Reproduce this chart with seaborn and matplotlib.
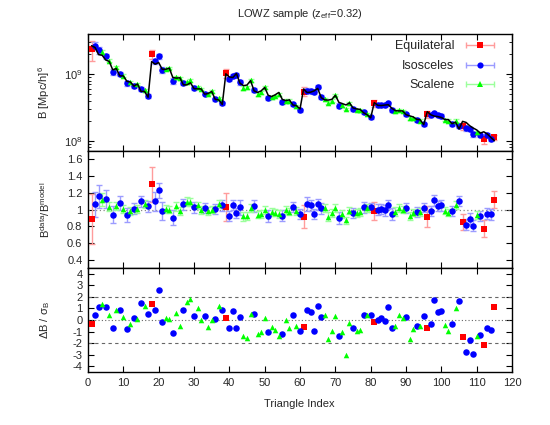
import numpy as np
import pandas as pd
import seaborn as sns
import matplotlib
matplotlib.use('Agg')
import matplotlib.pyplot as plt
from matplotlib.lines import Line2D
from matplotlib.legend_handler import HandlerLine2D, HandlerTuple
from matplotlib.ticker import FuncFormatter, NullFormatter, LogLocator

# triangle shape for index 1..115 (E = equilateral, I = isosceles, S = scalene)
kind = ("EIISISISIS" "ISISISIEII" "ISSISSISSI" "SSISSISIEI" "IIISSSISSS"
        "ISSSISSISI" "EIIIIISSSS" "ISSSISSISI" "EIIIIISSSI" "SSISIEIIII"
        "SSISIEIIIS" "IEIIE")

# measured bispectrum, units of 1e8 (Mpc/h)^6
b_data = [23.8, 26.7, 22.7, 21.4, 18.4, 16.0, 10.9, 12.6, 10.1, 9.5,
          7.3, 7.5, 6.7, 7.1, 6.0, 5.8, 4.7, 20.0, 15.5, 18.4,
          11.6, 11.9, 12.3, 8.0, 9.0, 8.6, 7.3, 7.5, 8.1, 6.2,
          6.3, 6.0, 5.1, 5.0, 5.5, 4.2, 4.4, 3.66, 10.4, 8.4,
          9.4, 9.8, 7.5, 6.2, 6.3, 8.1, 5.8, 5.0, 5.3, 6.3,
          4.4, 4.5, 4.7, 5.0, 3.86, 4.0, 4.0, 3.53, 3.3, 2.85,
          5.47, 5.66, 5.6, 5.3, 6.5, 4.5, 4.2, 3.73, 4.0, 4.87,
          3.37, 3.4, 3.0, 3.66, 2.97, 2.9, 2.85, 2.68, 2.5, 2.25,
          3.66, 3.4, 3.4, 3.4, 3.66, 2.9, 2.75, 2.85, 2.8, 2.5,
          2.17, 2.2, 2.03, 2.0, 1.77, 2.5, 2.4, 2.59, 2.4, 2.35,
          2.05, 2.0, 1.77, 2.0, 1.66, 1.66, 1.54, 1.5, 1.25, 1.35,
          1.2, 1.05, 1.2, 1.06, 1.12]

# best-fit model, units of 1e8 (Mpc/h)^6
b_model = [26.7, 25.1, 19.6, 19.2, 16.3, 15.5, 11.6, 12.1, 9.4, 9.4,
           7.8, 7.6, 6.6, 7.1, 5.5, 5.5, 4.5, 15.4, 14.1, 14.9,
           11.8, 11.8, 12.3, 8.9, 8.7, 8.8, 6.9, 6.9, 7.4, 6.05,
           6.0, 6.0, 5.0, 5.1, 5.5, 4.17, 4.1, 3.5, 10.1, 9.05,
           8.9, 10.2, 7.3, 6.7, 6.85, 8.0, 5.6, 5.3, 5.6, 6.3,
           4.8, 4.6, 4.9, 5.3, 4.16, 4.0, 4.1, 3.43, 3.35, 3.0,
           5.97, 5.3, 5.35, 5.6, 6.1, 4.43, 4.1, 4.07, 4.17, 4.8,
           3.76, 3.6, 3.44, 3.7, 3.1, 3.0, 2.95, 2.62, 2.45, 2.2,
           3.73, 3.4, 3.37, 3.43, 3.47, 3.06, 2.82, 2.8, 2.8, 2.46,
           2.36, 2.28, 2.1, 2.06, 1.74, 2.73, 2.45, 2.34, 2.3, 2.23,
           2.08, 2.07, 1.8, 1.9, 1.5, 1.95, 1.88, 1.68, 1.55, 1.45,
           1.3, 1.36, 1.26, 1.12, 1.0]

ratio = [0.89, 1.064, 1.156, 1.116, 1.128, 1.032, 0.936, 1.044, 1.076, 1.008,
         0.936, 0.984, 1.008, 1.004, 1.096, 1.064, 1.036, 1.30, 1.096, 1.232,
         0.98, 1.008, 1.0, 0.9, 1.036, 0.98, 1.064, 1.092, 1.088, 1.024,
         1.048, 0.996, 1.016, 0.98, 1.0, 1.008, 1.068, 1.048, 1.028, 0.928,
         1.056, 0.96, 1.024, 0.92, 0.92, 1.016, 1.04, 0.94, 0.948, 0.996,
         0.924, 0.972, 0.964, 0.948, 0.928, 0.996, 0.976, 1.028, 0.984, 0.948,
         0.916, 1.068, 1.048, 0.944, 1.06, 1.016, 1.02, 0.916, 0.96, 1.016,
         0.896, 0.948, 0.872, 0.988, 0.956, 0.96, 0.968, 1.024, 1.02, 1.024,
         0.98, 1.0, 1.008, 0.992, 1.056, 0.948, 0.976, 1.016, 1.0, 1.016,
         0.92, 0.964, 0.968, 0.972, 1.02, 0.916, 0.98, 1.108, 1.04, 1.052,
         0.984, 0.964, 0.98, 1.052, 1.104, 0.852, 0.82, 0.892, 0.804, 0.932,
         0.924, 0.772, 0.952, 0.944, 1.116]

ratio_err = [0.30, 0.15, 0.14, 0.08, 0.11, 0.055, 0.10, 0.05, 0.085, 0.045,
             0.08, 0.045, 0.065, 0.045, 0.065, 0.05, 0.065, 0.21, 0.11, 0.09,
             0.11, 0.045, 0.045, 0.09, 0.05, 0.045, 0.065, 0.055, 0.05, 0.06,
             0.045, 0.045, 0.06, 0.045, 0.045, 0.06, 0.05, 0.06, 0.17, 0.06,
             0.06, 0.06, 0.085, 0.055, 0.05, 0.045, 0.07, 0.045, 0.05, 0.045,
             0.07, 0.045, 0.045, 0.045, 0.065, 0.045, 0.045, 0.06, 0.045, 0.06,
             0.14, 0.08, 0.07, 0.06, 0.06, 0.065, 0.045, 0.05, 0.045, 0.045,
             0.07, 0.05, 0.042, 0.045, 0.06, 0.045, 0.045, 0.06, 0.045, 0.055,
             0.11, 0.06, 0.06, 0.065, 0.055, 0.07, 0.05, 0.045, 0.045, 0.06,
             0.048, 0.045, 0.06, 0.05, 0.055, 0.12, 0.06, 0.062, 0.06, 0.065,
             0.04, 0.04, 0.06, 0.05, 0.063, 0.10, 0.065, 0.063, 0.066, 0.049,
             0.06, 0.105, 0.067, 0.065, 0.10]

delta = [-0.34, 0.43, 1.09, 1.35, 1.09, 0.43, -0.66, 0.89, 0.86, 0.23,
         -0.8, -0.37, 0.14, 0.06, 1.47, 1.18, 0.55, 1.41, 0.86, 2.56,
         -0.17, 0.2, 0.06, -1.09, 0.63, -0.52, 0.83, 1.58, 1.78, 0.37,
         1.06, 0.0, 0.32, -0.63, 0.0, 0.11, 1.24, 0.86, 0.2, -0.72,
         0.75, -0.66, 0.29, -1.35, -1.58, 0.49, 0.55, -1.24, -1.03, 0.14,
         -1.06, -0.6, -0.89, -1.38, -1.18, 0.0, -0.72, 0.46, -0.52, -0.92,
         -0.6, 0.89, 0.66, -0.92, 1.18, 0.23, 0.4, -1.61, -0.98, 0.34,
         -1.41, -1.03, -3.07, -0.26, -0.72, -0.98, -0.83, 0.43, 0.4, 0.46,
         -0.2, 0.0, 0.14, -0.11, 1.09, -0.72, -0.49, 0.43, 0.17, 0.26,
         -1.67, -0.8, -0.52, -0.52, 0.37, -0.72, -0.34, 1.75, 0.66, 0.8,
         -0.46, -0.92, -0.32, 1.03, 1.64, -1.44, -2.73, -1.72, -2.96, -1.38,
         -1.26, -2.16, -0.72, -0.86, 1.12]

df = pd.DataFrame({'kind': list(kind), 'b': np.array(b_data) * 1e8,
                   'model': np.array(b_model) * 1e8, 'ratio': ratio,
                   'rerr': ratio_err, 'delta': delta})
df['idx'] = np.arange(1, len(df) + 1)
df['berr'] = df['rerr'] * df['model']

sns.set_theme(style='ticks')
plt.rcParams['font.family'] = ['Liberation Sans', 'DejaVu Sans']
plt.rcParams['font.size'] = 8
plt.rcParams['mathtext.fontset'] = 'custom'
plt.rcParams['mathtext.rm'] = 'Liberation Sans'
plt.rcParams['mathtext.it'] = 'Liberation Sans:italic'
plt.rcParams['axes.unicode_minus'] = False

# label, marker, colour, errorbar colour, marker area
styles = {'E': ('Equilateral', 's', '#ff0000', '#ff9c9c', 20),
          'I': ('Isosceles', 'o', '#0000ff', '#9c9cff', 22),
          'S': ('Scalene', '^', '#00ff00', '#9cff9c', 16)}

fig = plt.figure(figsize=(5.5, 4.25), dpi=100)
ax1 = fig.add_axes([0.16, 0.6447, 0.771, 0.2753])
ax2 = fig.add_axes([0.16, 0.3694, 0.771, 0.2753])
ax3 = fig.add_axes([0.16, 0.1247, 0.771, 0.2447])

sns.lineplot(data=df, x='idx', y='model', color='black', lw=1.1, ax=ax1, zorder=5)

for k, (lab, m, c, ec, s) in styles.items():
    sub = df[df['kind'] == k]
    ax1.errorbar(sub['idx'], sub['b'], yerr=sub['berr'], fmt='none', ecolor=ec,
                 elinewidth=1, capsize=2, capthick=1, zorder=2)
    sns.scatterplot(data=sub, x='idx', y='b', marker=m, color=c, s=s, linewidth=0,
                    ax=ax1, zorder=4, legend=False)
    ax2.errorbar(sub['idx'], sub['ratio'], yerr=sub['rerr'], fmt='none', ecolor=ec,
                 elinewidth=1, capsize=2, capthick=1, zorder=2)
    sns.scatterplot(data=sub, x='idx', y='ratio', marker=m, color=c, s=s, linewidth=0,
                    ax=ax2, zorder=4, legend=False)
    sns.scatterplot(data=sub, x='idx', y='delta', marker=m, color=c, s=s, linewidth=0,
                    ax=ax3, zorder=4, legend=False)

ax2.axhline(1, color='#888888', lw=0.9, ls=(0, (1, 2)), zorder=1)
ax3.axhline(0, color='#666666', lw=0.8, ls=(0, (1, 2)), zorder=1)
for yv in (-2, 2):
    ax3.axhline(yv, color='#666666', lw=0.8, ls=(0, (3, 3)), zorder=1)

ax1.set_yscale('log')
ax1.set_ylim(7e7, 4e9)
ax1.yaxis.set_minor_locator(LogLocator(base=10, subs=np.arange(2, 10)))
ax1.yaxis.set_minor_formatter(NullFormatter())
ax2.set_ylim(0.3, 1.7)
ax2.set_yticks([0.4, 0.6, 0.8, 1.0, 1.2, 1.4, 1.6])
ax2.yaxis.set_major_formatter(FuncFormatter(lambda v, p: '%g' % round(v, 2)))
ax3.set_ylim(-4.5, 4.5)
ax3.set_yticks(range(-4, 5))

for ax in (ax1, ax2, ax3):
    ax.set_xlim(0, 120)
    ax.set_xticks(range(0, 121, 10))
    ax.tick_params(which='major', direction='in', top=True, right=True,
                   length=4, width=0.8, labelsize=8, pad=4, color='black')
    ax.tick_params(which='minor', direction='in', top=True, right=True,
                   length=2.2, width=0.6, color='black')
    for sp in ax.spines.values():
        sp.set_color('black')
        sp.set_linewidth(1.0)
    ax.set_xlabel('')
    ax.yaxis.set_label_coords(-0.085, 0.5)
for ax in (ax1, ax2):
    ax.tick_params(labelbottom=False)

ax1.set_ylabel('B [Mpc/h]$^{6}$', fontsize=8)
ax2.set_ylabel('B$^{\\rm data}$/B$^{\\rm model}$', fontsize=8)
ax3.set_ylabel('ΔB / σ$_{\\rm B}$', fontsize=8)
fig.text(0.545, 0.049, 'Triangle Index', ha='center', va='center', fontsize=8)
fig.text(0.545, 0.968, 'LOWZ sample (z$_{\\rm eff}$=0.32)', ha='center', va='center', fontsize=8)

# gnuplot-like keys: text, then an error bar with the point in the middle
handles, hmap = [], {}
for k, (lab, m, c, ec, s) in styles.items():
    bar = Line2D([], [], color=ec, lw=1, marker='|', markersize=5, markeredgewidth=1)
    pt = Line2D([], [], ls='none', marker=m, color=c, markersize=np.sqrt(s) * 0.95,
                markeredgewidth=0)
    hmap[bar] = HandlerLine2D(numpoints=2)
    hmap[pt] = HandlerLine2D(numpoints=1)
    handles.append((bar, pt))
hmap[tuple] = HandlerTuple(ndivide=1)
ax1.legend(handles, [v[0] for v in styles.values()], handler_map=hmap,
           loc='upper right', bbox_to_anchor=(0.967, 0.945), frameon=False,
           markerfirst=False, handlelength=2.9, handletextpad=0.6,
           labelspacing=0.6, borderpad=0, borderaxespad=0, fontsize=9)

fig.savefig('out.png', dpi=100)
